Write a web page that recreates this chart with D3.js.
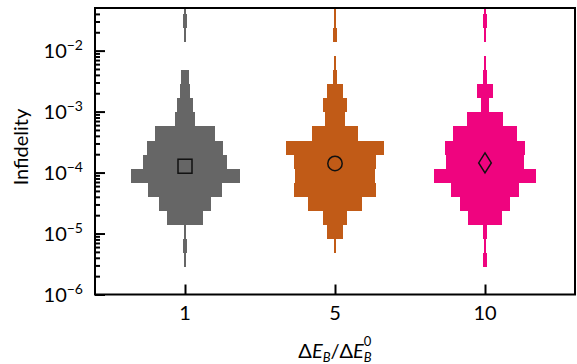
<!DOCTYPE html>
<html><head><meta charset="utf-8">
<script src="https://cdn.jsdelivr.net/npm/d3@7/dist/d3.min.js"></script>
<style>body{margin:0;background:#fff}svg{display:block}text{font-family:Lato,"Open Sans",sans-serif;fill:#000}</style>
</head><body><svg id="c" width="577" height="364"></svg>
<script>
// ---- data ----
const categories = ["1", "5", "10"];
const colors = ["#666666", "#c15b17", "#ef047f"];
const markers = ["square", "circle", "diamond"];
// lower edges (log10 of infidelity) of the histogram bins, top bin first
const binLowLog10 = [-1.395, -1.626, -1.857, -2.089, -2.320, -2.551, -2.782, -3.013, -3.244, -3.475,
                     -3.706, -3.937, -4.169, -4.400, -4.631, -4.862, -5.093, -5.324, -5.555];
const binTopLog10 = -1.164;
const countsA = [1, 2, 1, 0, 0, 4, 4.8, 7.5, 10, 29, 36.7, 40.5, 52, 35.2, 25.2, 17.1, 1, 2, 1];
const countsB = [1, 1, 2, 0, 1, 2, 7.6, 11.9, 10, 22.4, 46.7, 39.5, 38.6, 39.5, 26.2, 11, 8.1, 1, 0];
const countsC = [1, 2, 1, 0, 1, 2, 8.1, 3.8, 17.1, 30.5, 38.6, 37.6, 48.6, 32.4, 24.3, 16.2, 2, 1, 2];
const means = [1.27e-4, 1.41e-4, 1.44e-4];
const yTickExponents = [-6, -5, -4, -3, -2];

// ---- layout ----
const svg = d3.select("#c");
const L = 95, R = 575, T = 8, B = 294.5;
const x = d3.scalePoint().domain(categories).range([L, R]).padding(0.6);
const y = d3.scaleLog().domain([1e-6, 0.05]).range([B, T]);
const wScale = d3.scaleLinear().domain([0, 52]).range([0, 109]);

svg.append("clipPath").attr("id", "clip").append("rect")
  .attr("x", L).attr("y", T).attr("width", R - L).attr("height", B - T);

const series = [countsA, countsB, countsC];
const plot = svg.append("g").attr("clip-path", "url(#clip)");
series.forEach((counts, si) => {
  const cx = x(categories[si]);
  const bins = counts.map((c, i) => ({c, lo: binLowLog10[i], hi: i === 0 ? binTopLog10 : binLowLog10[i - 1]}))
    .filter(d => d.c > 0);
  plot.append("g").selectAll("rect").data(bins).join("rect")
    .attr("x", d => cx - wScale(d.c) / 2)
    .attr("width", d => wScale(d.c))
    .attr("y", d => y(Math.pow(10, d.hi)))
    .attr("height", d => y(Math.pow(10, d.lo)) - y(Math.pow(10, d.hi)))
    .attr("fill", colors[si]).attr("shape-rendering", "crispEdges");
});

// mean markers
means.forEach((m, i) => {
  const cx = x(categories[i]), cy = y(m);
  const g = svg.append("g").attr("fill", "none").attr("stroke", "#111").attr("stroke-width", 1.5);
  if (markers[i] === "square") g.append("rect").attr("x", cx - 7).attr("y", cy - 7).attr("width", 14).attr("height", 14);
  else if (markers[i] === "circle") g.append("circle").attr("cx", cx).attr("cy", cy).attr("r", 7.2);
  else g.append("path").attr("d", `M${cx},${cy - 10}L${cx + 6.3},${cy}L${cx},${cy + 10}L${cx - 6.3},${cy}Z`);
});

// y axis ticks (inside)
const majors = yTickExponents.map(e => Math.pow(10, e));
const minors = [];
for (let e = -6; e <= -2; e++) for (let k = 2; k <= 9; k++) { const v = k * Math.pow(10, e); if (v < 0.05) minors.push(v); }
const yMajor = svg.append("g").attr("transform", `translate(${L},0)`)
  .call(d3.axisLeft(y).tickValues(majors).tickSize(-10).tickFormat(""));
const yMinor = svg.append("g").attr("transform", `translate(${L},0)`)
  .call(d3.axisLeft(y).tickValues(minors).tickSize(-5).tickFormat(""));
[yMajor, yMinor].forEach(g => { g.select(".domain").remove(); g.selectAll("line").attr("stroke", "#000").attr("stroke-width", 2); });

// y labels
yTickExponents.forEach(e => {
  const t = svg.append("text").attr("x", 83).attr("y", y(Math.pow(10, e)) + 7)
    .attr("text-anchor", "end").attr("font-size", 20);
  t.append("tspan").text("10");
  t.append("tspan").attr("font-size", 14).attr("dy", -8).text("\u2212" + Math.abs(e));
});

// x axis ticks (inside)
const xAx = svg.append("g").attr("transform", `translate(0,${B})`)
  .call(d3.axisBottom(x).tickSize(-10).tickFormat(""));
xAx.select(".domain").remove();
xAx.selectAll("line").attr("stroke", "#000").attr("stroke-width", 2);
categories.forEach(c => {
  svg.append("text").attr("x", x(c)).attr("y", 320).attr("text-anchor", "middle").attr("font-size", 20).text(c);
});

// frame
svg.append("rect").attr("x", L).attr("y", T).attr("width", R - L).attr("height", B - T)
  .attr("fill", "none").attr("stroke", "#000").attr("stroke-width", 2);

// axis titles
svg.append("text").attr("transform", `translate(28,147) rotate(-90)`)
  .attr("text-anchor", "middle").attr("font-size", 20).text("Infidelity");
const xt = svg.append("text").attr("x", (L + R) / 2).attr("y", 358).attr("text-anchor", "middle").attr("font-size", 20);
xt.append("tspan").text("\u0394");
xt.append("tspan").attr("font-style", "italic").text("E");
xt.append("tspan").attr("font-size", 13).attr("font-style", "italic").attr("dy", 4).text("B");
xt.append("tspan").attr("dy", -4).text("/\u0394");
xt.append("tspan").attr("font-style", "italic").text("E");
xt.append("tspan").attr("font-size", 13).attr("font-style", "italic").attr("dy", 4).text("B");
xt.append("tspan").attr("font-size", 13).attr("dx", -8).attr("dy", -16).text("0");
</script></body></html>
